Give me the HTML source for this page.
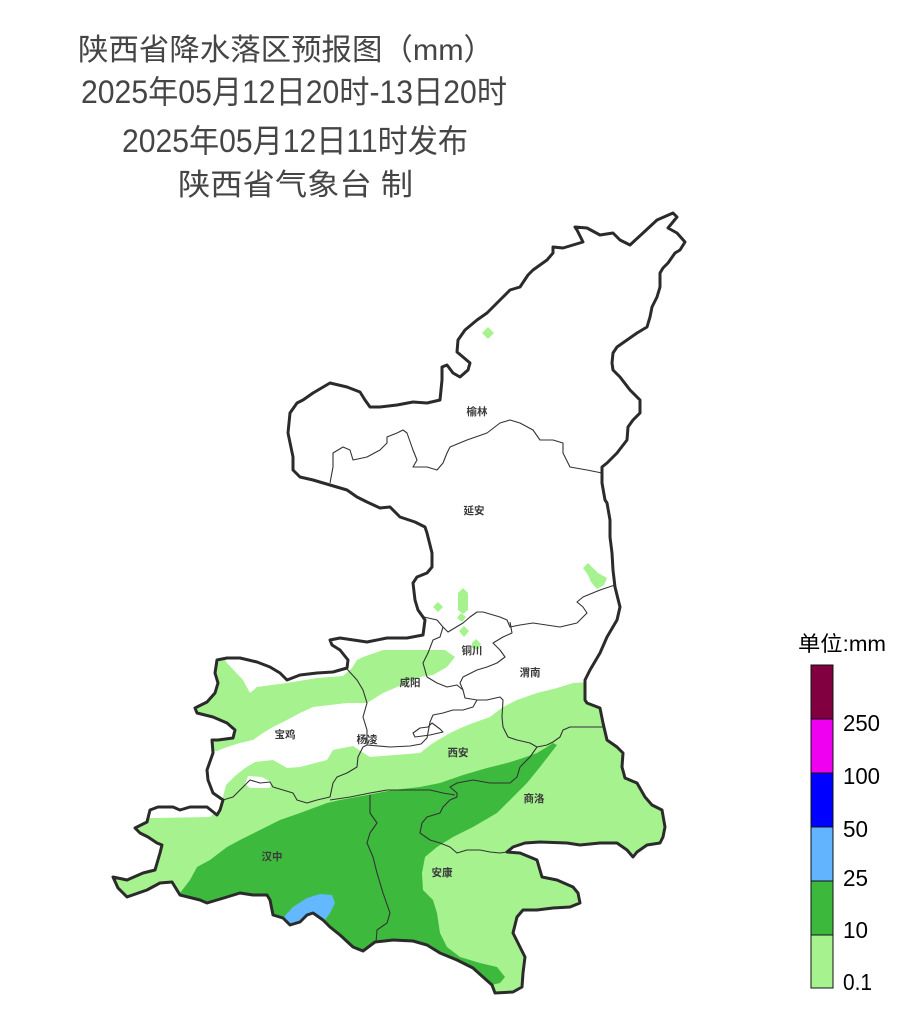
<!DOCTYPE html>
<html><head><meta charset="utf-8">
<style>
html,body{margin:0;padding:0;background:#fff;}
svg{display:block;}
.t{font-family:"Liberation Sans","Noto Sans CJK SC",sans-serif;fill:#454545;}
.lab{font-family:"Liberation Sans","Noto Sans CJK SC",sans-serif;font-size:10.5px;fill:#3a3a3a;font-weight:bold;}
.lg{font-family:"Liberation Sans","Noto Sans CJK SC",sans-serif;fill:#000;}
</style></head>
<body>
<svg width="900" height="1020" viewBox="0 0 900 1020" xmlns="http://www.w3.org/2000/svg">
<rect x="0" y="0" width="900" height="1020" fill="#fff"/>
<defs>
<clipPath id="sx">
<polygon id="outerpoly" points="673,213 677,217 668,228 677,233 685,242 680,250 675,253 668,263 663,268 660,273 660,287 657,297 652,307 650,317 647,327 637,333 627,340 617,347 613,353 612,363 613,370 620,377 630,390 640,400 640,413 633,420 628,427 627,440 617,453 607,463 602,467 602,483 605,500 607,503 610,520 610,537 612,553 613,570 615,587 620,607 617,620 607,637 600,653 590,670 585,680 585,700 587,703 600,708 603,723 607,740 617,747 623,753 622,767 625,778 637,783 645,797 652,805 662,810 665,827 663,837 660,843 647,845 637,852 633,857 627,850 617,843 600,843 580,845 567,843 540,842 525,843 513,847 507,852 520,853 537,860 542,877 557,880 573,887 578,893 580,903 570,907 553,908 537,910 523,910 517,917 513,933 520,947 525,957 523,973 522,987 513,992 495,993 492,985 483,977 473,968 457,960 440,953 427,945 413,941 393,940 375,942 363,951 353,947 340,935 330,927 323,920 313,913 307,915 300,922 290,925 283,918 273,915 270,900 267,895 253,895 240,893 227,897 207,903 200,900 180,895 172,882 160,883 147,890 127,897 118,888 113,877 127,880 143,873 155,870 160,853 162,845 157,843 148,837 140,833 135,828 147,822 150,810 158,807 173,807 180,810 190,807 207,807 217,815 220,810 223,800 213,793 208,780 207,770 213,753 212,740 218,740 233,738 235,730 227,723 213,717 197,713 195,708 207,702 215,693 218,683 215,673 217,660 227,658 240,658 257,662 270,667 280,673 287,680 300,675 317,673 333,672 347,668 348,660 340,650 332,645 330,640 340,638 367,642 387,638 407,638 423,635 425,620 423,617 418,610 415,600 413,583 417,577 427,573 432,567 432,553 427,533 425,527 415,522 400,517 390,507 380,508 367,502 357,497 347,490 330,485 313,480 300,477 293,470 293,457 288,433 290,413 297,403 303,400 313,393 330,383 347,387 360,392 365,400 370,407 380,407 397,405 413,402 427,403 440,400 442,380 442,367 447,365 453,373 460,377 468,370 470,363 463,357 457,352 458,340 465,330 477,320 487,313 493,307 500,300 510,290 520,287 528,275 533,270 547,260 553,253 553,247 563,248 583,242 577,230 575,227 587,228 600,235 613,233 620,240 630,245 643,233 657,220 673,213"/>
</clipPath>
</defs>

<!-- Title -->
<text class="t" x="78" y="60" font-size="30" textLength="416" lengthAdjust="spacingAndGlyphs">陕西省降水落区预报图（mm）</text>
<text class="t" x="81" y="103" font-size="32" textLength="426" lengthAdjust="spacingAndGlyphs">2025年05月12日20时-13日20时</text>
<text class="t" x="122" y="152" font-size="32" textLength="346" lengthAdjust="spacingAndGlyphs">2025年05月12日11时发布</text>
<text class="t" x="178" y="195" font-size="30" textLength="235" lengthAdjust="spacingAndGlyphs">陕西省气象台 制</text>

<!-- Precipitation fills -->
<g clip-path="url(#sx)">
  <!-- upper light green band -->
  <polygon fill="#a6f28f" points="150,650 222,655 227,663 243,680 250,693 257,687 287,683 317,678 343,676 352,668 357,660 363,657 383,650 445,650 455,657 447,667 433,675 420,677 397,687 383,693 367,703 347,703 313,707 300,713 287,720 273,727 263,733 253,740 240,743 227,747 217,751 150,751"/>
  <!-- lower light green -->
  <polygon fill="#a6f28f" points="100,818 153,818 210,817 220,807 223,797 226,785 235,776 245,768 255,762 273,760 287,768 300,767 327,760 333,750 353,746 362,752 370,757 420,753 433,743 450,733 463,727 473,723 490,717 503,707 517,700 537,693 557,688 573,683 590,682 700,682 700,1020 100,1020"/>
  <polygon fill="#fff" points="248,776 262,777 271,782 270,788 250,788 245,784"/>
  <!-- small light green spots north -->
  <polygon fill="#a6f28f" points="488,327 494,333 488,339 482,333"/>
  <polygon fill="#a6f28f" points="583,568 588,563 598,573 607,578 604,585 597,589 591,582 588,575"/>
  <polygon fill="#a6f28f" points="438,602 443,607 438,612 433,607"/>
  <polygon fill="#a6f28f" points="463,588 468,593 468,610 463,614 458,610 458,593"/>
  <polygon fill="#a6f28f" points="461,613 466,617 462,622 457,618"/>
  <polygon fill="#a6f28f" points="464,626 469,631 464,637 459,631"/>
  <polygon fill="#a6f28f" points="476,639 481,644 478,650 472,648 472,643"/>
  <!-- green 10-25 -->
  <polygon fill="#3dba3d" points="150,960 180,893 190,880 197,867 210,860 227,847 240,840 260,830 280,820 300,813 327,803 340,800 367,795 393,790 420,787 440,783 463,775 487,768 507,763 523,758 537,753 547,747 553,743 557,745 540,767 527,783 513,797 497,813 473,827 453,837 437,847 425,857 422,873 423,890 433,900 437,913 440,933 447,947 460,957 480,963 497,967 505,977 500,983 487,986 480,1010 150,1010"/>
  <!-- blue 25-50 -->
  <polygon fill="#63b8ff" points="283,918 293,907 307,898 320,894 332,895 335,903 330,913 323,923 318,932 290,935 280,925"/>
</g>

<!-- Internal boundaries -->
<g fill="none" stroke="#333" stroke-width="1.1" stroke-linejoin="round">
  <polyline points="330,483 333,467 333,453 343,447 350,450 353,460 367,457 380,450 387,443 387,437 397,433 403,430 407,433 413,450 417,460 413,467 427,467 437,470 443,463 447,453 450,447 467,440 487,433 500,423 510,420 520,423 533,430 540,440 553,440 563,443 563,453 570,467 587,470 602,473"/>
  <polyline points="424,617 437,620 443,627 448,632 463,623 470,617 477,612 483,612 500,617 507,620 510,627 520,625 533,623 560,627 577,623 587,613 583,607 577,602 583,597 600,590 615,585"/>
  <polyline points="443,627 440,637 433,640 428,653 423,663 427,677 437,683 447,687 457,685 463,690 465,698 477,700 487,700 500,697 503,700 502,717 503,727 508,737 517,740 530,743 537,747"/>
  <polyline points="510,622 512,633 503,637 493,643 500,650 505,657 497,663 487,667 477,670 463,677 460,683 463,690"/>
  <polyline points="367,745 390,747 410,746 421,744 427,738 430,722 433,715 443,713 453,710 463,710 473,707 477,700"/>
  <polygon points="413,733 420,728 428,727 432,723 440,729 443,732 430,735 415,737"/>
  <polyline points="537,747 547,745 553,742 560,737 563,730 570,727 590,727 604,727"/>
  <polyline points="537,747 530,757 520,767 517,777 510,783 490,783 473,780 457,783 450,787 457,793 457,797 450,800 443,807 440,813 427,817 422,823 420,833 430,840 440,843 450,847 457,853 467,850 480,850 490,852 500,853 507,852"/>
  <polyline points="330,800 350,797 370,793 387,790 403,790 430,790 443,793 455,795"/>
  <polyline points="220,808 223,800 233,797 243,787 250,780 260,783 270,782 273,787 283,790 293,793 297,800 307,803 317,800 330,797 333,783 337,777 347,773 357,767 358,757 363,747 367,745"/>
  <polyline points="347,669 357,680 363,690 367,703 363,717 367,730 367,745"/>
  <polyline points="370,795 370,813 377,823 370,833 367,843 373,857 377,873 383,893 390,913 387,923 377,930 376,943"/>
</g>

<!-- Outer boundary -->
<use href="#outerpoly" fill="none" stroke="#2b2b2b" stroke-width="3" stroke-linejoin="round"/>

<!-- Map labels -->
<g class="lab" text-anchor="middle">
  <text x="477" y="415">榆林</text>
  <text x="474" y="514">延安</text>
  <text x="472" y="654">铜川</text>
  <text x="530" y="676">渭南</text>
  <text x="410" y="686">咸阳</text>
  <text x="285" y="738">宝鸡</text>
  <text x="367" y="743">杨凌</text>
  <text x="458" y="756">西安</text>
  <text x="534" y="802">商洛</text>
  <text x="272" y="860">汉中</text>
  <text x="442" y="876">安康</text>
</g>

<!-- Legend -->
<text class="lg" x="798" y="651" font-size="21" textLength="88" lengthAdjust="spacingAndGlyphs">单位:mm</text>
<g stroke="#111" stroke-width="1">
  <rect x="811" y="665" width="22" height="54" fill="#800040"/>
  <rect x="811" y="719" width="22" height="54" fill="#f000f0"/>
  <rect x="811" y="773" width="22" height="54" fill="#0000ff"/>
  <rect x="811" y="827" width="22" height="54" fill="#63b4ff"/>
  <rect x="811" y="881" width="22" height="54" fill="#3cb93c"/>
  <rect x="811" y="935" width="22" height="53" fill="#a6f28f"/>
</g>
<g class="lg" font-size="23">
  <text x="843" y="731" textLength="37" lengthAdjust="spacingAndGlyphs">250</text>
  <text x="843" y="784" textLength="37" lengthAdjust="spacingAndGlyphs">100</text>
  <text x="843" y="837" textLength="25" lengthAdjust="spacingAndGlyphs">50</text>
  <text x="843" y="886" textLength="25" lengthAdjust="spacingAndGlyphs">25</text>
  <text x="843" y="938" textLength="25" lengthAdjust="spacingAndGlyphs">10</text>
  <text x="843" y="990" textLength="29" lengthAdjust="spacingAndGlyphs">0.1</text>
</g>
</svg>
</body></html>
